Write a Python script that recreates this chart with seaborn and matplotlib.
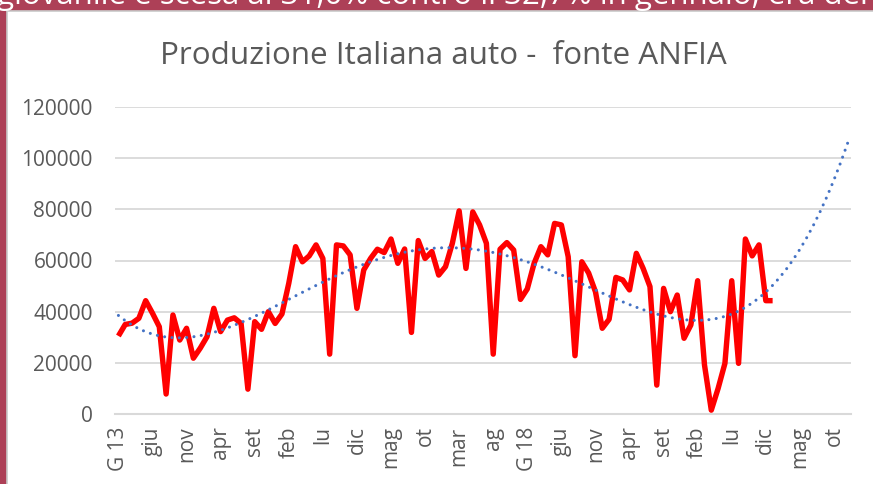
import numpy as np
import pandas as pd
import matplotlib
matplotlib.use("Agg")
import matplotlib.pyplot as plt
from matplotlib.patches import Rectangle
import seaborn as sns

# ---- data ----
tick_labels = ["G 13", "giu", "nov", "apr", "set", "feb", "lu", "dic", "mag", "ot", "mar",
               "ag", "G 18", "giu", "nov", "apr", "set", "feb", "lu", "dic", "mag", "ot"]
produzione = [30500, 35000, 35500, 37400, 44300, 39400, 34100, 7800, 38700, 28900,
              33500, 21800, 25700, 30200, 41300, 32200, 36700, 37600, 35400, 9700,
              36100, 33100, 40000, 35400, 39100, 51100, 65400, 59500, 61800, 66100,
              60800, 23400, 66100, 65700, 62200, 41300, 56300, 60800, 64400, 63100,
              68400, 58900, 64500, 31900, 67800, 60800, 63500, 54300, 57600, 66700,
              79400, 56900, 79000, 73900, 66700, 23400, 64400, 67000, 64100, 44800,
              48900, 58900, 65400, 62200, 74500, 73900, 61500, 22800, 59500, 55100,
              47800, 33500, 37000, 53400, 52400, 48500, 62800, 56900, 49800, 11300,
              49100, 40000, 46500, 29600, 34800, 52100, 19200, 1500, 10000, 19800,
              52100, 19800, 68400, 61800, 66100, 44300, 44300]
n_categories = 108          # Jan 2013 .. Dec 2021 on the category axis
trend_order = 4             # polynomial trend line, forecast forward

title = "Produzione Italiana auto -  fonte ANFIA"
header_text = "giovanile è scesa al 31,0% contro il 32,7% in gennaio, era del"

df = pd.DataFrame({"mese": np.arange(len(produzione)), "auto": produzione})
coef = np.polyfit(df["mese"], df["auto"], trend_order)
trend_x = np.arange(n_categories)
trend_df = pd.DataFrame({"mese": trend_x, "trend": np.polyval(coef, trend_x)})

# ---- styling ----
sns.set_style("white")
plt.rcParams["font.family"] = ["Open Sans", "DejaVu Sans"]

W, H = 873, 484
fig = plt.figure(figsize=(W / 100, H / 100), dpi=100, facecolor="#AD4057")
fig.patches.append(Rectangle((7 / W, -0.01), 1.0, 1 - 11 / H + 0.01,
                             transform=fig.transFigure, facecolor="white",
                             edgecolor="#C9C9C9", lw=1.2, zorder=-10))
# header sentence: only the lower part of it is visible above the white card
fig.text(-0.004, 1 - 4 / H, header_text, color="white", fontsize=22.5,
         ha="left", va="baseline", zorder=-5)
fig.text(443 / W, 1 - 64 / H, title, color="#595959", fontsize=22.6,
         ha="center", va="baseline")

ax = fig.add_axes([115 / W, 1 - 414 / H, (851 - 115) / W, (414 - 107) / H])
ax.set_facecolor("none")
ax.set_zorder(2)

sns.lineplot(data=df, x="mese", y="auto", ax=ax, color="#FF0000", lw=3.9,
             solid_joinstyle="round", solid_capstyle="butt", zorder=3)
sns.lineplot(data=trend_df, x="mese", y="trend", ax=ax, color="#4472C4", lw=2.2,
             zorder=4)
ax.lines[-1].set_dashes((0.01, 2.4))
ax.lines[-1].set_dash_capstyle("round")

ax.set_xlim(-0.5, n_categories - 0.5)
ax.set_ylim(0, 120000)
ax.set_yticks(np.arange(0, 120001, 20000))
ax.set_yticklabels([f"{v:d}" for v in range(0, 120001, 20000)])
ax.set_xticks(np.arange(0, 5 * len(tick_labels), 5))
ax.set_xticklabels(tick_labels, rotation=90)
ax.grid(axis="y", color="#D9D9D9", lw=1.3)
ax.grid(axis="x", visible=False)
for s in ["top", "right", "left"]:
    ax.spines[s].set_visible(False)
ax.spines["bottom"].set_color("#D9D9D9")
ax.spines["bottom"].set_linewidth(1.5)
ax.tick_params(axis="both", length=0, labelsize=15, labelcolor="#595959")
ax.tick_params(axis="y", pad=16)
ax.tick_params(axis="x", pad=9)
ax.set_xlabel("")
ax.set_ylabel("")

fig.savefig("out.png", dpi=100, facecolor=fig.get_facecolor())
